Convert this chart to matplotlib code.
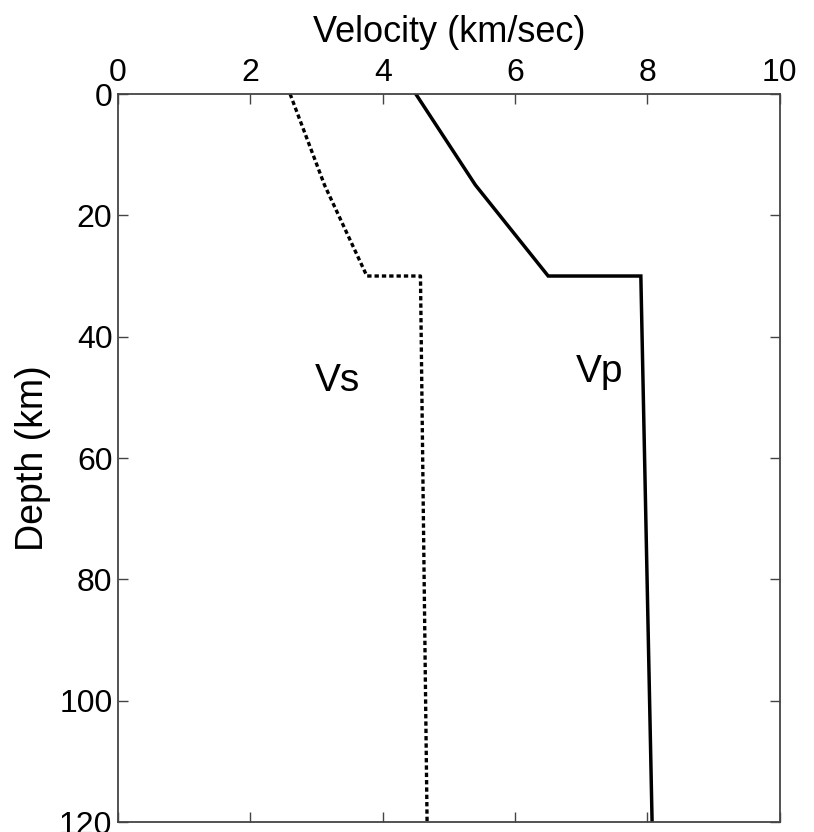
import numpy as np
import matplotlib.pyplot as plt

plt.rcParams['font.family'] = ['Liberation Sans', 'DejaVu Sans']

# velocity model
depth = [0, 15, 30, 30, 120]
vp = [4.5, 5.4, 6.5, 7.9, 8.07]
vs = [2.6, 3.12, 3.76, 4.57, 4.67]

fig = plt.figure(figsize=(8.14, 8.32), dpi=100)
ax = fig.add_axes([0.145, 0.012, 0.813, 0.875])

ax.plot(vp, depth, color='black', lw=2.5, solid_joinstyle='miter')
ax.plot(vs, depth, color='black', lw=2.4, linestyle=(0, (1.3, 0.9)))

ax.text(3.32, 48.9, 'Vs', fontsize=28, ha='center', va='baseline')
ax.text(7.28, 47.4, 'Vp', fontsize=28, ha='center', va='baseline')

ax.set_xlim(0, 10)
ax.set_ylim(120, 0)
ax.set_xticks([0, 2, 4, 6, 8, 10])
ax.set_yticks([0, 20, 40, 60, 80, 100, 120])
ax.xaxis.set_label_position('top')
ax.xaxis.tick_top()
ax.tick_params(direction='in', top=True, bottom=True, left=True, right=True,
               labelsize=23, length=7, width=1, color='#444444', pad=4)
ax.set_xlabel('Velocity (km/sec)', fontsize=26, labelpad=12)
ax.set_ylabel('Depth (km)', fontsize=27, labelpad=6)
for s in ax.spines.values():
    s.set_color('#444444')
    s.set_linewidth(1.3)

fig.savefig('out.png', dpi=100)
